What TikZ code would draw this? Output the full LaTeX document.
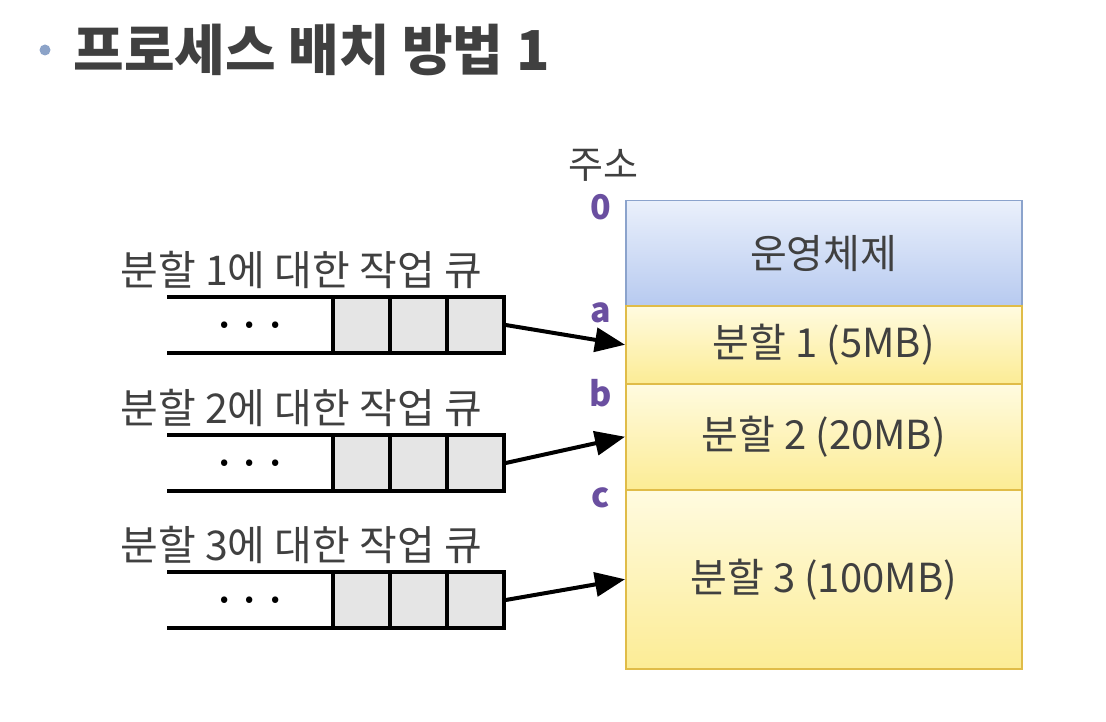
\documentclass[tikz,border=0pt]{standalone}
\usepackage{fontspec}
\setmainfont{Noto Sans CJK KR}
\usetikzlibrary{arrows.meta,shadows}
\definecolor{txtgray}{HTML}{404040}
\definecolor{addrpurple}{HTML}{6A4FA0}
\definecolor{bulletblue}{HTML}{8CA3C8}
\definecolor{osline}{HTML}{8BA3CC}
\definecolor{ostop}{HTML}{EAF0FB}
\definecolor{osbottom}{HTML}{B7CAF0}
\definecolor{partline}{HTML}{E0BC48}
\definecolor{parttop}{HTML}{FFFBE0}
\definecolor{partbottom}{HTML}{FCEC95}
\tikzset{
  membox/.style={draw, line width=1.5pt, minimum width=396, anchor=north west,
    inner sep=0pt, text=txtgray, font=\fontsize{40}{46}\selectfont},
  osbox/.style={membox, draw=osline, top color=ostop, bottom color=osbottom},
  partbox/.style={membox, draw=partline, top color=parttop, bottom color=partbottom},
  jobbox/.style={draw, line width=3.5pt, fill=black!10, minimum width=57, minimum height=56, inner sep=0pt},
  addr/.style={text=addrpurple, font=\bfseries\fontsize{34}{38}\selectfont},
  qlabel/.style={anchor=west, text=txtgray, font=\fontsize{41}{46}\selectfont},
  link/.style={-{Triangle[length=30pt,width=24pt]}, line width=4pt},
}
\begin{document}
\begin{tikzpicture}[x=1pt,y=-1pt]
  \useasboundingbox (0,0) rectangle (1106,722);
  % title
  \fill[bulletblue] (45,50) circle (5.5);
  \node[anchor=west, text=txtgray, font=\bfseries\fontsize{55}{60}\selectfont] (title) at (70,50) {프로세스 배치 방법 1};
  % memory
  \begin{scope}[drop shadow={opacity=0.25, shadow xshift=2pt, shadow yshift=-3pt}]
  \node[partbox, minimum height=179] (p3) at (625,489) {분할 3 (100MB)};
  \end{scope}
  \node[osbox, minimum height=105] (os) at (625,200) {운영체제};
  \node[partbox, minimum height=78] (p1) at (625,305) {분할 1 (5MB)};
  \node[partbox, minimum height=106] (p2) at (625,383) {분할 2 (20MB)};
  \node[text=txtgray, font=\fontsize{38}{42}\selectfont] (addrtitle) at (603,165) {주소};
  \node[addr] (a0) at (601,207) {0};
  \node[addr] (aa) at (601,313) {a};
  \node[addr] (ab) at (601,393) {b};
  \node[addr] (ac) at (601,498) {c};
  % job queues
  \foreach \q/\y in {1/297, 2/435, 3/572} {
    \node[qlabel] (ql\q) at (117,\y-27) {분할 {\q}에 대한 작업 큐};
    \draw[line width=3.5pt] (167,\y) -- (333,\y);
    \draw[line width=3.5pt] (167,\y+56) -- (333,\y+56);
    \node[font=\bfseries\fontsize{30}{34}\selectfont] (dots\q) at (250,\y+32) {· · ·};
    \foreach \k in {1,2,3}
      \node[jobbox] (q\q-\k) at (304.5+57*\k,\y+28) {};
    \draw[link] (q\q-3.east) -- (p\q.west);
  }
\end{tikzpicture}
\end{document}
